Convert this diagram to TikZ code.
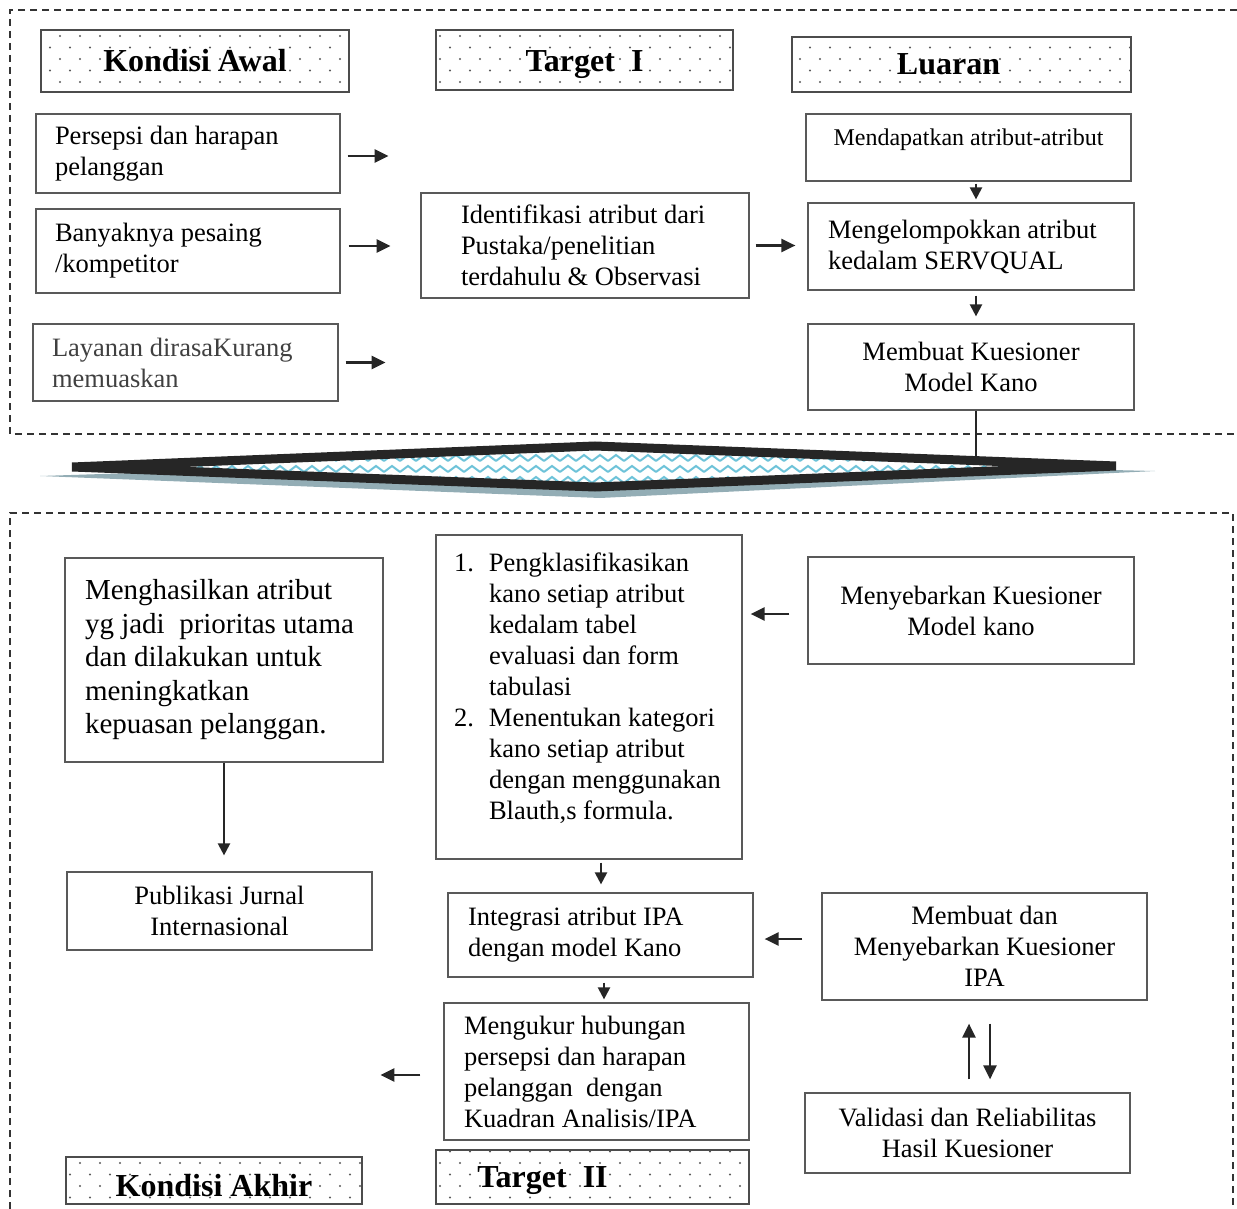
\documentclass[tikz,border=0pt]{standalone}
\usepackage{fontspec}
\setmainfont{Liberation Serif}
\usepackage{tikz}
\usetikzlibrary{positioning, arrows, arrows.meta, calc, patterns}

\definecolor{dotgray}{HTML}{5A5A5A}
\definecolor{wavecyan}{HTML}{6EC3D9}
\definecolor{shadowblue}{HTML}{93ADB5}
\definecolor{bandblack}{HTML}{262626}

\pgfdeclarepatternformonly{sparsedots}{\pgfqpoint{-2pt}{-2pt}}{\pgfqpoint{12pt}{14pt}}{\pgfqpoint{20pt}{23pt}}{%
  \pgfpathcircle{\pgfqpoint{0pt}{0pt}}{1.2pt}%
  \pgfpathcircle{\pgfqpoint{10pt}{11.5pt}}{1.2pt}%
  \pgfusepath{fill}}
\pgfdeclarepatternformonly{zigwave}{\pgfqpoint{-1.5pt}{-1.5pt}}{\pgfqpoint{17.5pt}{8pt}}{\pgfqpoint{16pt}{11pt}}{%
  \pgfsetlinewidth{2pt}%
  \pgfpathmoveto{\pgfqpoint{0pt}{0pt}}%
  \pgfpathlineto{\pgfqpoint{8pt}{6pt}}%
  \pgfpathlineto{\pgfqpoint{16pt}{0pt}}%
  \pgfusepath{stroke}}

\newcommand{\txtfont}{\fontsize{26.5}{31}\selectfont}
\newcommand{\smfont}{\fontsize{24}{29}\selectfont}
\newcommand{\lgfont}{\fontsize{29}{33.5}\selectfont}
\newcommand{\hdfont}{\fontsize{32}{36}\selectfont\bfseries}
\newcommand{\lowered}[2]{\raisebox{-#1}[\height][\depth]{#2}}

\begin{document}
\begin{tikzpicture}[x=1pt, y=-1pt,
  box/.style={draw=black!65, line width=1.2pt, font=\txtfont, inner ysep=0pt,
    execute at begin node={\spaceskip=0pt\xspaceskip=0pt}},
  lbox/.style={box, align=left},
  cbox/.style={box, align=center},
  head/.style={draw=black!70, line width=1.2pt, pattern=sparsedots, pattern color=dotgray, font=\hdfont, inner sep=0pt},
  arr/.style={-{Triangle[length=14pt,width=13pt]}, line width=2.4pt, draw=bandblack},
  sarr/.style={-{Triangle[length=12pt,width=12pt]}, line width=2.2pt, draw=bandblack},
  frame/.style={dash pattern=on 7pt off 5pt, line width=1.5pt, draw=black!80}]

\useasboundingbox (0,0) rectangle (1237,1209);

% dashed frames
\draw[frame] (1237,10) -- (10,10) -- (10,434) -- (1237,434);
\draw[frame] (10,1209) -- (10,513) -- (1233,513) -- (1233,1209);

% headers
\node[head, minimum width=308pt, minimum height=62pt] (kawal) at (195,61) {Kondisi Awal};
\node[head, minimum width=297pt, minimum height=60pt] (target1) at (584.5,60) {\lowered{5pt}{Target\ \ I}};
\node[head, minimum width=339pt, minimum height=55pt] (luaran) at (961.5,64.5) {Luaran\hspace*{26pt}};
\node[head, minimum width=296pt, minimum height=47pt] (kakhir) at (214,1180.5) {\lowered{5pt}{Kondisi Akhir}};
\node[head, minimum width=313pt, minimum height=54pt] (target2) at (592.5,1177) {\lowered{4pt}{Target\ \ II}\hspace*{100pt}};

% upper part
\node[lbox, text width=266pt, inner xsep=19pt, minimum height=79pt] (persepsi) at (188,153.5) {Persepsi dan harapan\\pelanggan};
\node[lbox, text width=266pt, inner xsep=19pt, minimum height=84pt] (pesaing) at (188,251) {Banyaknya pesaing\\/kompetitor};
\node[lbox, text width=267pt, inner xsep=19pt, minimum height=77pt, text=black!75] (layanan) at (185.5,362.5) {Layanan dirasaKurang\\memuaskan};
\node[lbox, text width=248pt, inner xsep=40pt, minimum height=105pt] (identifikasi) at (585,245.5) {\mbox{Identifikasi atribut dari}\\Pustaka/penelitian\\\mbox{terdahulu \& Observasi}};
\node[cbox, font=\smfont, minimum width=325pt, minimum height=67pt] (atribut) at (968.5,147.5) {Mendapatkan atribut-atribut\\[-8pt]\mbox{}};
\node[lbox, text width=286pt, inner xsep=20pt, minimum height=87pt] (kelompok) at (971,246.5) {Mengelompokkan atribut\\kedalam SERVQUAL};
\node[cbox, minimum width=326pt, minimum height=86pt] (kano) at (971,367) {Membuat Kuesioner\\Model Kano};

\draw[arr] ([xshift=7pt,yshift=-2.5pt]persepsi.east) -- ++(41,0);
\draw[arr] ([xshift=8pt,yshift=5pt]pesaing.east) -- ++(42,0);
\draw[arr] ([xshift=7pt]layanan.east) -- ++(40,0);
\draw[arr, shorten <=6pt, shorten >=12pt] (identifikasi.east) -- (identifikasi.east -| kelompok.west);
\draw[sarr] ([xshift=7.5pt,yshift=-2pt]atribut.south) -- ([xshift=5pt,yshift=3pt]kelompok.north);
\draw[sarr] ([xshift=5pt,yshift=-5pt]kelompok.south) -- ([xshift=5pt,yshift=7pt]kano.north);

% band
\coordinate (sL) at (40,476);
\coordinate (sT) at (600,458);
\coordinate (sR) at (1155,471);
\coordinate (sB) at (600,498);
\coordinate (bL) at (72,467);
\coordinate (bT) at (595,446);
\coordinate (bR) at (1116,466);
\coordinate (bB) at (595,487);
\coordinate (bandhit) at (976,463);
\fill[shadowblue] (sL) -- (sT) -- (sR) -- (sB) -- cycle;
\draw[line width=9pt, draw=bandblack, preaction={fill=white}, pattern=zigwave, pattern color=wavecyan] (bL) -- (bT) -- (bR) -- (bB) -- cycle;
\draw[line width=2pt, draw=bandblack] ([xshift=5pt]kano.south) -- (bandhit);

% lower part
\node[lbox, font=\lgfont, text width=278pt, inner xsep=20pt, minimum height=204pt] (hasil) at (224,660) {Menghasilkan atribut\\yg jadi\ \ prioritas utama\\dan dilakukan untuk\\meningkatkan\\kepuasan pelanggan.};
\node[cbox, minimum width=305pt, minimum height=78pt] (publikasi) at (219.5,911) {Publikasi Jurnal\\Internasional};
\node[lbox, text width=270pt, inner xsep=18pt, minimum height=324pt] (klasifikasi) at (589,697) {\makebox[35pt][l]{1.}Pengklasifikasikan\\\hspace*{35pt}kano setiap atribut\\\hspace*{35pt}kedalam tabel\\\hspace*{35pt}evaluasi dan form\\\hspace*{35pt}tabulasi\\\makebox[35pt][l]{2.}Menentukan kategori\\\hspace*{35pt}kano setiap atribut\\\hspace*{35pt}\mbox{dengan menggunakan}\\\hspace*{35pt}Blauth,s formula.\\[-10pt]\mbox{}};
\node[cbox, minimum width=326pt, minimum height=107pt] (sebarkano) at (971,610.5) {Menyebarkan Kuesioner\\Model kano};
\node[lbox, text width=265pt, inner xsep=20pt, minimum height=84pt] (integrasi) at (600.5,935) {Integrasi atribut IPA\\dengan model Kano};
\node[cbox, minimum width=325pt, minimum height=107pt] (sebaripa) at (984.5,946.5) {Membuat dan\\Menyebarkan Kuesioner\\IPA};
\node[cbox, minimum width=325pt, minimum height=80pt] (validasi) at (967.5,1133) {Validasi dan Reliabilitas\\Hasil Kuesioner};
\node[lbox, text width=265pt, inner xsep=20pt, minimum height=137pt] (ukur) at (596.5,1071.5) {Mengukur hubungan\\persepsi dan harapan\\pelanggan\ \ dengan\\Kuadran Analisis/IPA};

\draw[sarr] ([xshift=0pt]hasil.south) -- ([xshift=4.5pt,yshift=16pt]publikasi.north);
\draw[arr, shorten <=18pt, shorten >=8pt] ([yshift=-3.5pt]sebarkano.west) -- ([yshift=-3.5pt]sebarkano.west -| klasifikasi.east);
\draw[sarr] ([xshift=12pt,yshift=-3pt]klasifikasi.south) -- ([xshift=0.5pt,yshift=8pt]integrasi.north);
\draw[arr, shorten <=19pt, shorten >=11pt] ([yshift=7.5pt]sebaripa.west) -- ([yshift=7.5pt]sebaripa.west -| integrasi.east);
\draw[sarr] ([xshift=3.5pt,yshift=-5pt]integrasi.south) -- ([xshift=7.5pt,yshift=3pt]ukur.north);
\draw[arr] ([xshift=-23pt,yshift=-3.5pt]ukur.west) -- ++(-40,0);
\draw[arr] ([xshift=1.5pt,yshift=13pt]validasi.north) -- ([xshift=-15.5pt,yshift=-23pt]sebaripa.south);
\draw[arr] ([xshift=5.5pt,yshift=-23pt]sebaripa.south) -- ([xshift=22.5pt,yshift=13pt]validasi.north);
\end{tikzpicture}
\end{document}
